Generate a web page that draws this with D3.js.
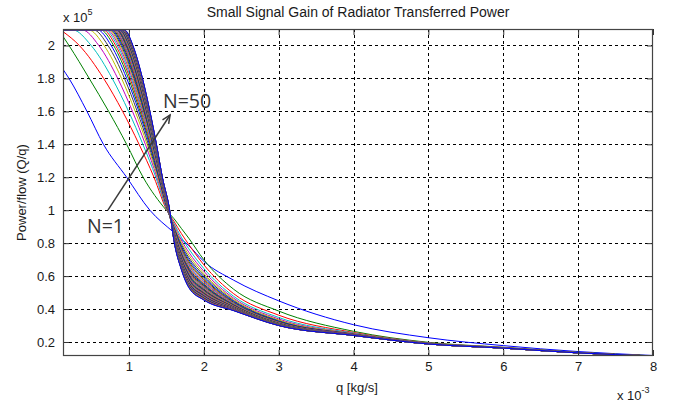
<!DOCTYPE html>
<html>
<head>
<meta charset="utf-8">
<script src="https://cdn.jsdelivr.net/npm/d3@7"></script>
<style>
  body { margin: 0; background: #fff; }
  svg { display: block; font-family: "Liberation Sans", Arial, sans-serif; }
</style>
</head>
<body>
<svg id="chart" width="675" height="405"></svg>
<script>
// ---- data: Q/q (x 10^5) against flow q (x 10^-3 kg/s), radiator split into N = 1..50 sections ----
const qStart = 0.12;          // first flow sample
const satY = 2.095;           // saturated Q/q at low flow
const startY = [1.855, 2.055, 2.084].concat(new Array(47).fill(2.095));   // Q/q at q = qStart
// flow at which each curve leaves saturation (null: already below it at qStart)
const kneeQ = [null, null, null, 0.246, 0.373, 0.460, 0.526, 0.578, 0.619, 0.653,
  0.680, 0.705, 0.725, 0.744, 0.760, 0.774, 0.788, 0.799, 0.809, 0.819,
  0.828, 0.835, 0.843, 0.850, 0.856, 0.863, 0.868, 0.874, 0.878, 0.883,
  0.888, 0.891, 0.895, 0.899, 0.903, 0.906, 0.909, 0.913, 0.915, 0.918,
  0.920, 0.923, 0.925, 0.928, 0.930, 0.933, 0.934, 0.936, 0.938, 0.940];
// falling branch: flow at which each curve passes these Q/q levels
const levelY = [2.0, 1.8, 1.6, 1.4, 1.2, 1.0];
const levelQ = [
  [null, 0.20, 0.44, 0.66, 0.97, 1.28],
  [0.200, 0.470, 0.730, 0.970, 1.190, 1.500],
  [0.338, 0.663, 0.916, 1.136, 1.335, 1.506],
  [0.496, 0.777, 0.996, 1.187, 1.360, 1.510],
  [0.598, 0.851, 1.048, 1.220, 1.375, 1.513],
  [0.668, 0.902, 1.084, 1.243, 1.386, 1.515],
  [0.721, 0.941, 1.111, 1.260, 1.395, 1.518],
  [0.763, 0.971, 1.133, 1.274, 1.401, 1.519],
  [0.796, 0.995, 1.149, 1.284, 1.407, 1.521],
  [0.823, 1.015, 1.163, 1.293, 1.411, 1.523],
  [0.845, 1.030, 1.175, 1.300, 1.414, 1.524],
  [0.865, 1.045, 1.185, 1.307, 1.417, 1.525],
  [0.881, 1.057, 1.193, 1.312, 1.420, 1.526],
  [0.896, 1.068, 1.201, 1.317, 1.422, 1.527],
  [0.909, 1.077, 1.207, 1.321, 1.424, 1.528],
  [0.920, 1.085, 1.213, 1.325, 1.426, 1.529],
  [0.932, 1.093, 1.219, 1.329, 1.428, 1.530],
  [0.940, 1.100, 1.223, 1.331, 1.429, 1.531],
  [0.948, 1.106, 1.228, 1.334, 1.430, 1.531],
  [0.957, 1.112, 1.232, 1.337, 1.432, 1.532],
  [0.963, 1.116, 1.235, 1.339, 1.433, 1.533],
  [0.969, 1.121, 1.238, 1.341, 1.434, 1.534],
  [0.975, 1.125, 1.241, 1.343, 1.435, 1.534],
  [0.981, 1.130, 1.244, 1.345, 1.436, 1.535],
  [0.986, 1.133, 1.247, 1.346, 1.436, 1.535],
  [0.991, 1.137, 1.250, 1.348, 1.437, 1.536],
  [0.995, 1.140, 1.251, 1.349, 1.438, 1.536],
  [1.001, 1.144, 1.254, 1.351, 1.439, 1.537],
  [1.004, 1.146, 1.256, 1.352, 1.439, 1.537],
  [1.008, 1.149, 1.258, 1.353, 1.440, 1.538],
  [1.012, 1.151, 1.260, 1.355, 1.440, 1.538],
  [1.014, 1.154, 1.261, 1.356, 1.441, 1.539],
  [1.018, 1.156, 1.263, 1.357, 1.441, 1.539],
  [1.021, 1.158, 1.265, 1.358, 1.442, 1.540],
  [1.024, 1.160, 1.266, 1.359, 1.442, 1.540],
  [1.026, 1.162, 1.267, 1.359, 1.443, 1.540],
  [1.029, 1.164, 1.269, 1.360, 1.443, 1.541],
  [1.032, 1.166, 1.270, 1.361, 1.444, 1.541],
  [1.034, 1.167, 1.271, 1.362, 1.444, 1.542],
  [1.036, 1.169, 1.272, 1.362, 1.444, 1.542],
  [1.038, 1.170, 1.273, 1.363, 1.444, 1.542],
  [1.040, 1.172, 1.274, 1.364, 1.445, 1.543],
  [1.042, 1.173, 1.275, 1.364, 1.445, 1.543],
  [1.044, 1.175, 1.276, 1.365, 1.445, 1.543],
  [1.046, 1.176, 1.277, 1.366, 1.446, 1.544],
  [1.048, 1.178, 1.278, 1.366, 1.446, 1.544],
  [1.049, 1.179, 1.279, 1.367, 1.446, 1.544],
  [1.051, 1.180, 1.280, 1.367, 1.446, 1.544],
  [1.052, 1.181, 1.281, 1.368, 1.447, 1.545],
  [1.054, 1.182, 1.281, 1.368, 1.447, 1.545]
];
// high-flow tail: Q/q of each curve at these flows
const tailQ = [1.6, 1.7, 1.8, 2.0, 2.4, 3, 4, 5, 6, 7, 8];
const tailY = [
  [0.865, 0.825, 0.785, 0.690, 0.575, 0.450, 0.305, 0.226, 0.178, 0.142, 0.118],
  [0.950, 0.890, 0.830, 0.700, 0.520, 0.388, 0.265, 0.198, 0.168, 0.137, 0.116],
  [0.934, 0.859, 0.792, 0.669, 0.493, 0.363, 0.258, 0.195, 0.167, 0.136, 0.116],
  [0.922, 0.836, 0.766, 0.647, 0.477, 0.349, 0.254, 0.194, 0.166, 0.136, 0.116],
  [0.913, 0.819, 0.745, 0.630, 0.466, 0.340, 0.251, 0.193, 0.165, 0.135, 0.115],
  [0.906, 0.805, 0.728, 0.616, 0.458, 0.334, 0.250, 0.192, 0.165, 0.135, 0.115],
  [0.899, 0.793, 0.713, 0.605, 0.451, 0.329, 0.248, 0.191, 0.165, 0.135, 0.115],
  [0.894, 0.782, 0.701, 0.594, 0.446, 0.326, 0.247, 0.191, 0.164, 0.135, 0.115],
  [0.889, 0.773, 0.690, 0.586, 0.441, 0.323, 0.246, 0.191, 0.164, 0.135, 0.115],
  [0.885, 0.765, 0.680, 0.578, 0.437, 0.320, 0.246, 0.190, 0.164, 0.135, 0.115],
  [0.881, 0.758, 0.671, 0.570, 0.434, 0.318, 0.245, 0.190, 0.164, 0.135, 0.115],
  [0.878, 0.751, 0.663, 0.564, 0.431, 0.317, 0.245, 0.190, 0.164, 0.135, 0.115],
  [0.874, 0.745, 0.655, 0.557, 0.428, 0.315, 0.244, 0.190, 0.164, 0.134, 0.115],
  [0.871, 0.739, 0.649, 0.552, 0.426, 0.314, 0.244, 0.189, 0.164, 0.134, 0.115],
  [0.869, 0.734, 0.642, 0.547, 0.424, 0.313, 0.244, 0.189, 0.164, 0.134, 0.115],
  [0.866, 0.729, 0.636, 0.542, 0.422, 0.312, 0.243, 0.189, 0.163, 0.134, 0.115],
  [0.864, 0.724, 0.631, 0.537, 0.420, 0.311, 0.243, 0.189, 0.163, 0.134, 0.115],
  [0.861, 0.719, 0.625, 0.533, 0.418, 0.310, 0.243, 0.189, 0.163, 0.134, 0.115],
  [0.859, 0.715, 0.620, 0.529, 0.416, 0.309, 0.243, 0.189, 0.163, 0.134, 0.115],
  [0.857, 0.711, 0.616, 0.525, 0.415, 0.309, 0.242, 0.189, 0.163, 0.134, 0.115],
  [0.855, 0.708, 0.611, 0.521, 0.413, 0.308, 0.242, 0.189, 0.163, 0.134, 0.115],
  [0.853, 0.704, 0.607, 0.517, 0.412, 0.307, 0.242, 0.188, 0.163, 0.134, 0.115],
  [0.851, 0.700, 0.602, 0.514, 0.411, 0.307, 0.242, 0.188, 0.163, 0.134, 0.115],
  [0.850, 0.697, 0.598, 0.511, 0.410, 0.306, 0.242, 0.188, 0.163, 0.134, 0.115],
  [0.848, 0.694, 0.595, 0.508, 0.408, 0.306, 0.242, 0.188, 0.163, 0.134, 0.115],
  [0.846, 0.691, 0.591, 0.505, 0.407, 0.305, 0.242, 0.188, 0.163, 0.134, 0.115],
  [0.845, 0.688, 0.587, 0.502, 0.406, 0.305, 0.241, 0.188, 0.163, 0.134, 0.115],
  [0.843, 0.685, 0.584, 0.499, 0.405, 0.305, 0.241, 0.188, 0.163, 0.134, 0.115],
  [0.842, 0.682, 0.581, 0.496, 0.404, 0.304, 0.241, 0.188, 0.163, 0.134, 0.115],
  [0.841, 0.680, 0.578, 0.494, 0.403, 0.304, 0.241, 0.188, 0.163, 0.134, 0.115],
  [0.839, 0.677, 0.575, 0.492, 0.402, 0.304, 0.241, 0.188, 0.163, 0.134, 0.115],
  [0.838, 0.675, 0.572, 0.489, 0.402, 0.303, 0.241, 0.188, 0.163, 0.134, 0.115],
  [0.837, 0.672, 0.569, 0.487, 0.401, 0.303, 0.241, 0.188, 0.163, 0.134, 0.115],
  [0.836, 0.670, 0.566, 0.484, 0.400, 0.303, 0.241, 0.188, 0.163, 0.134, 0.115],
  [0.834, 0.668, 0.563, 0.482, 0.399, 0.303, 0.241, 0.188, 0.163, 0.134, 0.115],
  [0.833, 0.666, 0.561, 0.480, 0.398, 0.302, 0.241, 0.188, 0.163, 0.134, 0.115],
  [0.832, 0.664, 0.558, 0.478, 0.398, 0.302, 0.241, 0.188, 0.163, 0.134, 0.115],
  [0.831, 0.661, 0.556, 0.476, 0.397, 0.302, 0.241, 0.188, 0.163, 0.134, 0.115],
  [0.830, 0.659, 0.553, 0.474, 0.396, 0.302, 0.240, 0.188, 0.163, 0.134, 0.115],
  [0.829, 0.657, 0.551, 0.472, 0.396, 0.302, 0.240, 0.188, 0.163, 0.134, 0.115],
  [0.828, 0.656, 0.549, 0.470, 0.395, 0.301, 0.240, 0.188, 0.163, 0.134, 0.115],
  [0.827, 0.654, 0.546, 0.468, 0.394, 0.301, 0.240, 0.188, 0.163, 0.134, 0.115],
  [0.826, 0.652, 0.544, 0.467, 0.394, 0.301, 0.240, 0.188, 0.163, 0.134, 0.115],
  [0.825, 0.650, 0.542, 0.465, 0.393, 0.301, 0.240, 0.188, 0.163, 0.134, 0.115],
  [0.824, 0.648, 0.540, 0.463, 0.393, 0.301, 0.240, 0.188, 0.163, 0.134, 0.115],
  [0.823, 0.647, 0.538, 0.461, 0.392, 0.301, 0.240, 0.188, 0.163, 0.134, 0.115],
  [0.822, 0.645, 0.536, 0.460, 0.392, 0.300, 0.240, 0.188, 0.163, 0.134, 0.115],
  [0.822, 0.643, 0.534, 0.458, 0.391, 0.300, 0.240, 0.188, 0.163, 0.134, 0.115],
  [0.821, 0.642, 0.532, 0.456, 0.391, 0.300, 0.240, 0.188, 0.163, 0.134, 0.115],
  [0.820, 0.640, 0.530, 0.455, 0.390, 0.300, 0.240, 0.188, 0.163, 0.134, 0.115]
];
const xTicks = [1, 2, 3, 4, 5, 6, 7, 8];
const yTicks = [0.2, 0.4, 0.6, 0.8, 1, 1.2, 1.4, 1.6, 1.8, 2];
const xDomain = [0.12, 8];
const yDomain = [0.115, 2.1];
// MATLAB-style colour order, cycled over the 50 curves
const colorOrder = ['#0000ff', '#008000', '#ff0000', '#00bfbf', '#bf00bf', '#bfbf00', '#404040'];
// annotation arrow (data units)
const arrowFrom = [0.72, 1.0];
const arrowTo = [1.55, 1.578];
const labelN50 = { text: 'N=50', q: 1.456, v: 1.62 };
const labelN1 = { text: 'N=1', q: 0.44, v: 0.862 };

// ---- layout ----
const P = { l: 63, r: 653, t: 29, b: 356 };
const svg = d3.select('#chart');
const x = d3.scaleLinear().domain(xDomain).range([P.l, P.r]);
const y = d3.scaleLinear().domain(yDomain).range([P.b, P.t]);
const textColor = '#1a1a1a';

svg.append('defs').append('clipPath').attr('id', 'plotclip')
  .append('rect').attr('x', P.l).attr('y', P.t).attr('width', P.r - P.l).attr('height', P.b - P.t);

// dashed grid
const grid = svg.append('g').attr('stroke', '#000').attr('stroke-width', 1)
  .attr('stroke-dasharray', '3,3').attr('shape-rendering', 'crispEdges');
grid.selectAll('line.vx').data(xTicks.filter(d => d < xDomain[1])).join('line')
  .attr('x1', d => Math.round(x(d)) + 0.5).attr('x2', d => Math.round(x(d)) + 0.5)
  .attr('y1', P.t).attr('y2', P.b);
grid.selectAll('line.hy').data(yTicks).join('line')
  .attr('y1', d => Math.round(y(d)) + 0.5).attr('y2', d => Math.round(y(d)) + 0.5)
  .attr('x1', P.l).attr('x2', P.r);

// curves
const curves = d3.range(50).map(i => {
  const pts = [[qStart, startY[i]]];
  if (kneeQ[i] !== null) pts.push([kneeQ[i], satY]);
  levelY.forEach((ly, j) => { if (levelQ[i][j] !== null) pts.push([levelQ[i][j], ly]); });
  tailQ.forEach((q, j) => pts.push([q, tailY[i][j]]));
  return { n: i + 1, pts };
});
const line = d3.line().x(d => x(d[0])).y(d => y(d[1])).curve(d3.curveMonotoneX);
svg.append('g').attr('clip-path', 'url(#plotclip)')
  .selectAll('path').data(curves).join('path')
  .attr('d', d => line(d.pts))
  .attr('fill', 'none')
  .attr('stroke', d => colorOrder[(d.n - 1) % colorOrder.length])
  .attr('stroke-width', 1);

// axes (ticks pointing inwards on all four sides)
function styleAxis(g) {
  g.select('.domain').remove();
  g.selectAll('line').attr('stroke', '#333');
  g.selectAll('text').attr('fill', textColor);
  g.attr('font-size', 13).attr('font-family', '"Liberation Sans", Arial, sans-serif');
}
svg.append('g').attr('transform', `translate(0,${P.b})`)
  .call(d3.axisBottom(x).tickValues(xTicks).tickFormat(d3.format('d')).tickSizeInner(-6).tickSizeOuter(0).tickPadding(6))
  .call(styleAxis);
svg.append('g').attr('transform', `translate(0,${P.t})`)
  .call(d3.axisTop(x).tickValues(xTicks).tickFormat('').tickSizeInner(-6).tickSizeOuter(0))
  .call(styleAxis);
svg.append('g').attr('transform', `translate(${P.l},0)`)
  .call(d3.axisLeft(y).tickValues(yTicks).tickFormat(d3.format('~g')).tickSizeInner(-6).tickSizeOuter(0).tickPadding(8))
  .call(styleAxis);
svg.append('g').attr('transform', `translate(${P.r},0)`)
  .call(d3.axisRight(y).tickValues(yTicks).tickFormat('').tickSizeInner(-6).tickSizeOuter(0))
  .call(styleAxis);

// box
svg.append('rect').attr('x', P.l + 0.5).attr('y', P.t + 0.5)
  .attr('width', P.r - P.l - 1).attr('height', P.b - P.t - 1)
  .attr('fill', 'none').attr('stroke', '#444').attr('stroke-width', 1.2);

// title and axis labels
svg.append('text').attr('x', (P.l + P.r) / 2).attr('y', 17)
  .attr('text-anchor', 'middle').attr('font-size', 14).attr('fill', textColor)
  .text('Small Signal Gain of Radiator Transferred Power');
svg.append('text').attr('x', (P.l + P.r) / 2 - 1).attr('y', 392)
  .attr('text-anchor', 'middle').attr('font-size', 13).attr('fill', textColor)
  .text('q [kg/s]');
svg.append('text').attr('transform', `translate(26,${(P.t + P.b) / 2}) rotate(-90)`)
  .attr('text-anchor', 'middle').attr('font-size', 13).attr('fill', textColor)
  .text('Power/flow (Q/q)');

// exponent labels
const ex5 = svg.append('text').attr('x', 63).attr('y', 22).attr('font-size', 13).attr('fill', textColor);
ex5.append('tspan').text('x 10');
ex5.append('tspan').attr('font-size', 9).attr('dy', -7).text('5');
const ex3 = svg.append('text').attr('x', 617).attr('y', 400).attr('font-size', 13).attr('fill', textColor);
ex3.append('tspan').text('x 10');
ex3.append('tspan').attr('font-size', 9).attr('dy', -7).text('-3');

// annotation arrow and labels
const ann = svg.append('g').attr('stroke', '#3a3a3a').attr('stroke-width', 1.5).attr('fill', 'none');
const ax0 = x(arrowFrom[0]), ay0 = y(arrowFrom[1]), ax1 = x(arrowTo[0]), ay1 = y(arrowTo[1]);
ann.append('line').attr('x1', ax0).attr('y1', ay0).attr('x2', ax1).attr('y2', ay1);
const ang = Math.atan2(ay1 - ay0, ax1 - ax0);
const hl = 9, hw = 0.42;
ann.append('path').attr('d',
  `M${ax1 - hl * Math.cos(ang - hw)},${ay1 - hl * Math.sin(ang - hw)} L${ax1},${ay1} L${ax1 - hl * Math.cos(ang + hw)},${ay1 - hl * Math.sin(ang + hw)}`);
[labelN50, labelN1].forEach(l => {
  svg.append('text').attr('x', x(l.q)).attr('y', y(l.v))
    .attr('font-size', 19.5).attr('fill', '#333')
    .attr('font-family', '"Open Sans", "Liberation Sans", sans-serif')
    .text(l.text);
});
</script>
</body>
</html>
